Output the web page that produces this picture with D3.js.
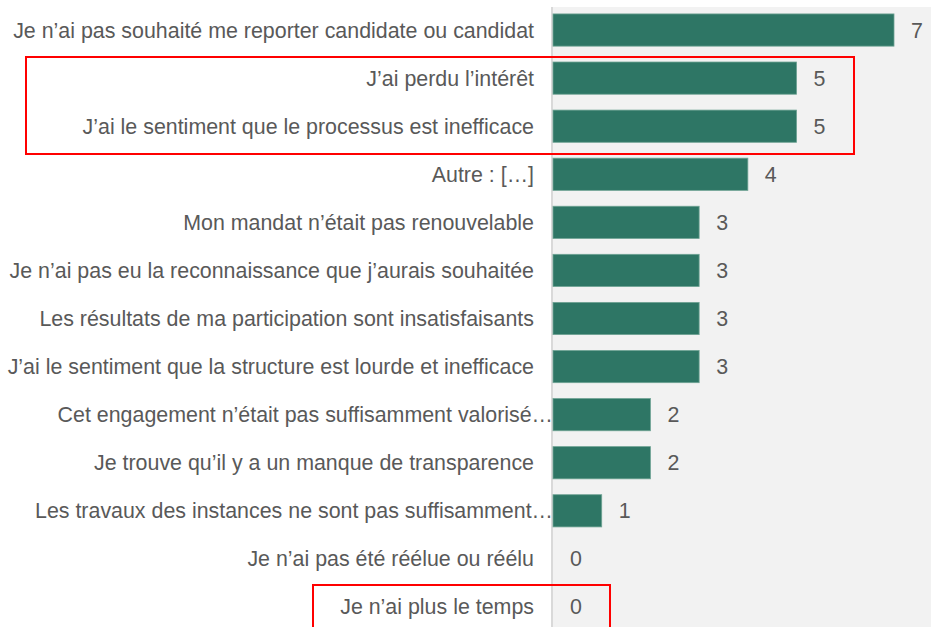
<!DOCTYPE html>
<html><head><meta charset="utf-8">
<script src="https://cdn.jsdelivr.net/npm/d3@7"></script>
<style>html,body{margin:0;padding:0;background:#fff;}svg{display:block;}</style>
</head><body>
<script>
const categories = [
  "Je n’ai pas souhaité me reporter candidate ou candidat",
  "J’ai perdu l’intérêt",
  "J’ai le sentiment que le processus est inefficace",
  "Autre : […]",
  "Mon mandat n’était pas renouvelable",
  "Je n’ai pas eu la reconnaissance que j’aurais souhaitée",
  "Les résultats de ma participation sont insatisfaisants",
  "J’ai le sentiment que la structure est lourde et inefficace",
  "Cet engagement n’était pas suffisamment valorisé…",
  "Je trouve qu’il y a un manque de transparence",
  "Les travaux des instances ne sont pas suffisamment…",
  "Je n’ai pas été réélue ou réélu",
  "Je n’ai plus le temps"
];
const values = [7, 5, 5, 4, 3, 3, 3, 3, 2, 2, 1, 0, 0];

const W = 931, H = 627;
const svg = d3.select("body").append("svg").attr("width", W).attr("height", H);

const x = d3.scaleLinear().domain([0, 7]).range([553, 894]);
const y = d3.scaleBand().domain(categories).range([6, 631]).paddingInner(0.33).paddingOuter(0.165);

// plot background
svg.append("rect").attr("x", x(0) - 1).attr("y", 7).attr("width", W - x(0) + 1).attr("height", H - 7).attr("fill", "#f2f2f2");
// zero axis line
svg.append("line").attr("x1", x(0) - 1).attr("x2", x(0) - 1).attr("y1", 7).attr("y2", H)
  .attr("stroke", "#d9d9d9").attr("stroke-width", 2);

svg.append("g").selectAll("rect").data(categories).join("rect")
  .attr("x", x(0)).attr("y", d => y(d))
  .attr("width", (d, i) => x(values[i]) - x(0))
  .attr("height", y.bandwidth())
  .attr("fill", "#2e7665")
  .attr("stroke", (d, i) => values[i] > 0 ? "#6fa394" : "none").attr("stroke-width", 0.8);

const font = "'Liberation Sans', Arial, sans-serif";
const fs = 21.4;
svg.append("g").selectAll("text").data(categories).join("text")
  .attr("x", d => d.endsWith("…") ? 553 : 534)
  .attr("y", d => y(d) + y.bandwidth() / 2)
  .attr("dy", "0.35em")
  .attr("text-anchor", "end")
  .attr("font-family", font).attr("font-size", fs)
  .attr("fill", "#595959")
  .text(d => d);

svg.append("g").selectAll("text").data(categories).join("text")
  .attr("x", (d, i) => x(values[i]) + 17)
  .attr("y", d => y(d) + y.bandwidth() / 2)
  .attr("dy", "0.35em")
  .attr("font-family", font).attr("font-size", fs)
  .attr("fill", "#595959")
  .text((d, i) => values[i]);

// highlight boxes
svg.append("rect").attr("x", 26).attr("y", 57).attr("width", 828).attr("height", 97)
  .attr("fill", "none").attr("stroke", "#ff0000").attr("stroke-width", 2);
svg.append("rect").attr("x", 313).attr("y", 585).attr("width", 297).attr("height", 60)
  .attr("fill", "none").attr("stroke", "#ff0000").attr("stroke-width", 2);
</script>
</body></html>
